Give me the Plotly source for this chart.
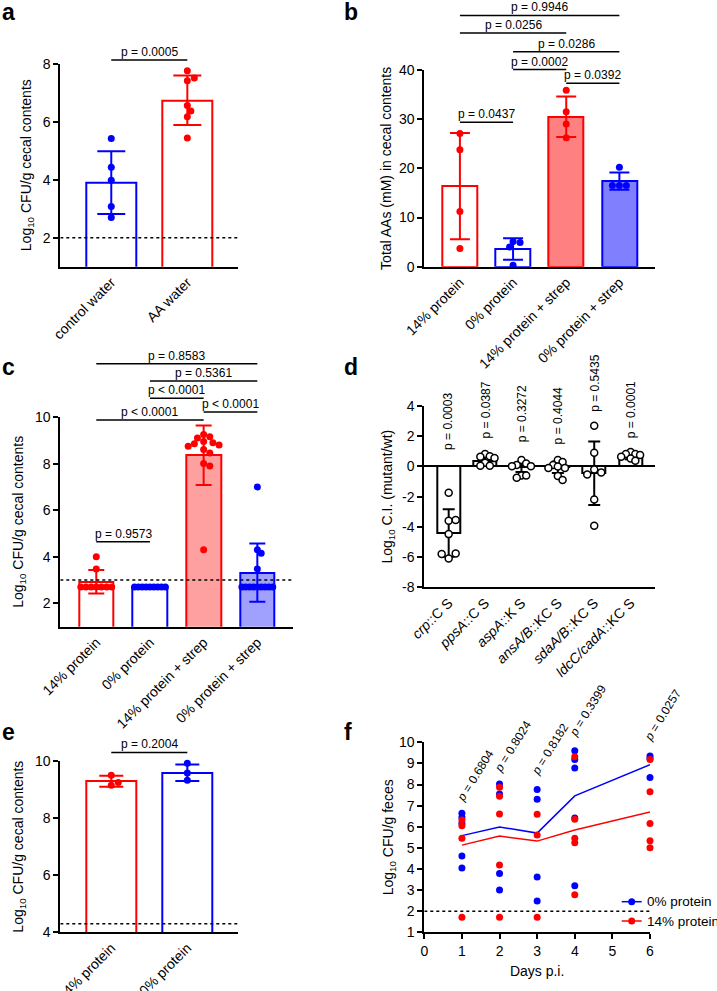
import plotly.graph_objects as go

W, H = 717, 991
FONT = "Arial, 'Liberation Sans', sans-serif"
INK = "#000000"
RED = "#ff0000"
BLUE = "#0000ff"

# ---------------------------------------------------------------- data
# a: CFU in cecal contents, control vs AA water
A_CATS = ["control water", "AA water"]
A_MEAN = [3.90, 6.74]
A_SD = [1.08, 0.85]
A_PTS = [
    [5.42, 4.43, 3.98, 3.08, 2.70],
    [7.76, 7.41, 7.51, 6.56, 6.37, 6.17, 5.44],
]
A_LOD = 2.0
A_PAIRS = [(0, 1)]
A_PVALS = ["p = 0.0005"]

# b: total amino acids
B_CATS = ["14% protein", "0% protein", "14% protein + strep", "0% protein + strep"]
B_MEAN = [16.4, 3.6, 30.5, 17.4]
B_SD = [10.8, 2.2, 4.1, 1.75]
B_PTS = [
    [27.1, 23.8, 11.2, 3.7],
    [5.1, 4.9, 4.0, 0.3],
    [35.9, 31.5, 29.0, 26.2],
    [20.2, 16.5, 16.5, 16.5],
]
B_PAIRS = [(0, 3), (0, 2), (1, 3), (1, 2), (2, 3), (0, 1)]
B_PVALS = ["p = 0.9946", "p = 0.0256", "p = 0.0286", "p = 0.0002", "p = 0.0392", "p = 0.0437"]

# c: CFU with / without strep
C_CATS = ["14% protein", "0% protein", "14% protein + strep", "0% protein + strep"]
C_MEAN = [2.93, 2.70, 8.36, 3.32]
C_SD = [0.50, 0.0, 1.28, 1.25]
C_PTS = [
    [4.0, 3.48, 2.7, 2.7, 2.7, 2.7, 2.7, 2.7, 2.7],
    [2.7, 2.7, 2.7, 2.7, 2.7, 2.7, 2.7, 2.7, 2.7],
    [9.25, 9.15, 9.1, 8.95, 8.9, 8.85, 8.8, 8.75, 8.6, 8.45, 8.0, 7.9, 4.3],
    [7.0, 4.3, 4.15, 3.48, 2.7, 2.7, 2.7, 2.7, 2.7, 2.7, 2.7, 2.7, 2.7],
]
C_LOD = 3.0
C_PAIRS = [(0, 3), (1, 3), (1, 2), (2, 3), (0, 2), (0, 1)]
C_PVALS = ["p = 0.8583", "p = 0.5361", "p &lt; 0.0001", "p &lt; 0.0001", "p &lt; 0.0001", "p = 0.9573"]

# d: competitive index
D_CATS = ["<i>crp</i>::C S", "<i>ppsA</i>::C S", "<i>aspA</i>::K S",
          "<i>ansA/B</i>::KC S", "<i>sdaA/B</i>::KC S", "<i>ldcC/cadA</i>::KC S"]
D_MEAN = [-4.40, 0.35, -0.05, -0.05, -0.45, 0.68]
D_SD = [1.57, 0.30, 0.32, 0.38, 2.10, 0.20]
D_PTS = [
    [-1.74, -3.6, -3.55, -4.48, -6.09, -5.76, -5.8],
    [0.82, 0.68, 0.64, 0.55, 0.25, 0.04, 0.04],
    [0.42, 0.2, 0.1, 0.02, 0.02, -0.6, -0.6, -0.75],
    [0.42, 0.29, 0.1, 0.0, -0.1, -0.1, -0.64, -0.9],
    [2.7, 0.9, -0.2, -0.4, -0.53, -2.19, -3.93],
    [0.95, 0.82, 0.82, 0.75, 0.64, 0.53, 0.38],
]
D_PVALS = ["p = 0.0003", "p = 0.0387", "p = 0.3272", "p = 0.4044", "p = 0.5435", "p = 0.0001"]

# e: CFU, 14% vs 0% protein
E_CATS = ["14% protein", "0% protein"]
E_MEAN = [9.29, 9.59]
E_SD = [0.19, 0.29]
E_PTS = [[9.50, 9.15, 9.25], [9.92, 9.58, 9.33]]
E_LOD = 4.3
E_PAIRS = [(0, 1)]
E_PVALS = ["p = 0.2004"]

# f: fecal shedding over time
F_DAYS = [1, 2, 3, 4, 6]
F_ZERO_PTS = [
    [6.64, 6.45, 6.16, 4.61, 4.04],
    [8.03, 7.55, 3.79, 3.00],
    [7.77, 7.30, 3.62, 2.48],
    [9.60, 9.19, 8.78, 6.41, 3.21],
    [9.35, 9.23, 8.33],
]
F_ZERO_MEAN = [5.58, 5.99, 5.70, 7.46, 8.94]
F_FOURTEEN_PTS = [
    [6.32, 6.05, 5.45, 1.71],
    [7.87, 7.44, 6.60, 4.19, 1.71],
    [6.59, 5.61, 1.71],
    [9.32, 6.35, 5.45, 5.24, 2.78],
    [9.19, 7.66, 6.15, 5.34, 5.01],
]
F_FOURTEEN_MEAN = [5.13, 5.56, 5.32, 5.85, 6.70]
F_LOD = 2.0
F_PVALS = ["0.6804", "0.8024", "0.8182", "0.3399", "0.0257"]
F_NAMES = ["0% protein", "14% protein"]

# ---------------------------------------------------------------- layout
# panel geometry in pixels (left, right), (top, bottom) plus axis ranges
PAD = 0.67
GEOM = {
    "a": dict(n=1, x=(60.3, 238.3), y=(63.7, 266.7), xr=(-PAD, 1 + PAD), yr=(1, 8)),
    "b": dict(n=2, x=(424.3, 655.0), y=(70.0, 266.7), xr=(-PAD, 3 + PAD), yr=(0, 40)),
    "c": dict(n=3, x=(60.3, 293.3), y=(417.0, 626.7), xr=(-PAD, 3 + PAD), yr=(1, 10)),
    "d": dict(n=4, x=(424.3, 655.0), y=(406.0, 587.3), xr=(-PAD, 5 + PAD), yr=(-8, 4)),
    "e": dict(n=5, x=(60.3, 238.3), y=(761.0, 932.3), xr=(-PAD, 1 + PAD), yr=(4, 10)),
    "f": dict(n=6, x=(424.3, 650.0), y=(742.3, 932.3), xr=(0, 6), yr=(1, 10)),
}
LETTER_POS = {"a": (0, 11.7), "b": (342, 11.7), "c": (0, 366.7), "d": (342, 366.7),
              "e": (0, 731.7), "f": (342, 731.7)}
LEGEND_ROWS = [901.7, 921.0]      # pixel y of legend entries in f
LEGEND_X = (621.7, 641.7, 645.0)  # line start, line end, text start

# bracket heights (data units) and label anchors
A_BRACKET_Y = [8.13]
B_BRACKET_Y = [51.1, 47.5, 43.7, 40.1, 37.3, 29.4]
C_BRACKET_Y = [12.29, 11.54, 10.80, 10.21, 9.87, 4.65]
E_BRACKET_Y = [10.3]
D_LABEL_Y = [0.97, 1.68, 1.46, 1.35, 3.47, 1.74]
F_LABEL_Y = [6.95, 8.3, 8.2, 10.0, 9.8]

DOT = 7


def ax_id(p):
    n = GEOM[p]["n"]
    return ("x", "y") if n == 1 else (f"x{n}", f"y{n}")


def px_per_x(p):
    g = GEOM[p]
    return (g["x"][1] - g["x"][0]) / (g["xr"][1] - g["xr"][0])


def px_per_y(p):
    g = GEOM[p]
    return (g["y"][1] - g["y"][0]) / (g["yr"][1] - g["yr"][0])


def fx(p, v):
    g = GEOM[p]
    return (v - g["xr"][0]) / (g["xr"][1] - g["xr"][0])


def fy(p, v):
    g = GEOM[p]
    return (v - g["yr"][0]) / (g["yr"][1] - g["yr"][0])


def swarm(vals, p, maxhalf):
    """Simple beeswarm offsets (in x data units) for one column of dots."""
    sy = px_per_y(p)
    placed, offs = [], []
    for v in vals:
        yp = v * sy
        k = 0
        while True:
            cand = 0.0 if k == 0 else ((k + 1) // 2) * 0.5 * DOT * (1 if k % 2 else -1)
            if all((cand - a) ** 2 + (yp - b) ** 2 >= (0.9 * DOT) ** 2 for a, b in placed):
                break
            k += 1
        placed.append((cand, yp))
        offs.append(cand)
    m = max(abs(o) for o in offs)
    s = maxhalf / m if m > maxhalf else 1.0
    return [o * s / px_per_x(p) for o in offs]


fig = go.Figure()
shapes, annotations = [], []


def bar_panel(p, means, sds, pts, edge, fills, width, cap, dot_fill=None, dot_line=None):
    xa, ya = ax_id(p)
    for i, (m, sd) in enumerate(zip(means, sds)):
        fig.add_trace(go.Bar(
            x=[i], y=[m], width=width, xaxis=xa, yaxis=ya, showlegend=False,
            marker=dict(color=fills[i], line=dict(color=edge[i], width=2)),
            error_y=dict(type="data", array=[sd], visible=sd > 0, color=edge[i],
                         thickness=2, width=cap),
        ))
    maxhalf = width * px_per_x(p) / 2 - 2
    for i, vals in enumerate(pts):
        offs = swarm(vals, p, maxhalf)
        fig.add_trace(go.Scatter(
            x=[i + o for o in offs], y=vals, mode="markers", xaxis=xa, yaxis=ya,
            showlegend=False, cliponaxis=False,
            marker=dict(size=DOT, color=dot_fill or edge[i],
                        line=dict(color=dot_line or edge[i], width=1.5 if dot_line else 0)),
        ))


def lod_line(p, v):
    xa, ya = ax_id(p)
    g = GEOM[p]
    shapes.append(dict(type="line", xref=xa, yref=ya, x0=g["xr"][0], x1=g["xr"][1],
                       y0=v, y1=v, line=dict(color=INK, width=1.5, dash="dot")))


def brackets(p, pairs, pvals, levels):
    xa, ya = ax_id(p)
    for (i, j), txt, lv in zip(pairs, pvals, levels):
        shapes.append(dict(type="line", xref=f"{xa} domain", yref=f"{ya} domain",
                           x0=fx(p, i), x1=fx(p, j), y0=fy(p, lv), y1=fy(p, lv),
                           line=dict(color=INK, width=1.5)))
        annotations.append(dict(text=txt, xref=f"{xa} domain", yref=f"{ya} domain",
                                x=fx(p, (i + j) / 2), y=fy(p, lv), xanchor="center",
                                yanchor="bottom", showarrow=False, yshift=-1,
                                font=dict(size=12, color=INK)))


# a
bar_panel("a", A_MEAN, A_SD, A_PTS, [BLUE, RED], ["white", "white"], 0.66, 14)
lod_line("a", A_LOD)
brackets("a", A_PAIRS, A_PVALS, A_BRACKET_Y)

# b
bar_panel("b", B_MEAN, B_SD, B_PTS, [RED, BLUE, RED, BLUE],
          ["white", "white", "#ff8080", "#8080ff"], 0.66, 10)
brackets("b", B_PAIRS, B_PVALS, B_BRACKET_Y)

# c
bar_panel("c", C_MEAN, C_SD, C_PTS, [RED, BLUE, RED, BLUE],
          ["white", "white", "#ffa0a0", "#a0a0ff"], 0.65, 8)
lod_line("c", C_LOD)
brackets("c", C_PAIRS, C_PVALS, C_BRACKET_Y)

# d
bar_panel("d", D_MEAN, D_SD, D_PTS, [INK] * 6, ["white"] * 6, 0.63, 6,
          dot_fill="white", dot_line=INK)
xa, ya = ax_id("d")
for i, (txt, lv) in enumerate(zip(D_PVALS, D_LABEL_Y)):
    annotations.append(dict(text=txt, xref=xa, yref=f"{ya} domain", x=i, y=fy("d", lv),
                            textangle=-90, xanchor="center", yanchor="bottom",
                            showarrow=False, font=dict(size=12, color=INK)))

# e
bar_panel("e", E_MEAN, E_SD, E_PTS, [RED, BLUE], ["white", "white"], 0.66, 12)
lod_line("e", E_LOD)
brackets("e", E_PAIRS, E_PVALS, E_BRACKET_Y)

# f
xa, ya = ax_id("f")
for pts, mean, col in [(F_ZERO_PTS, F_ZERO_MEAN, BLUE), (F_FOURTEEN_PTS, F_FOURTEEN_MEAN, RED)]:
    xs = [d for d, vals in zip(F_DAYS, pts) for _ in vals]
    ys = [v for vals in pts for v in vals]
    fig.add_trace(go.Scatter(x=F_DAYS, y=mean, mode="lines", xaxis=xa, yaxis=ya,
                             line=dict(color=col, width=1.5), showlegend=False))
    fig.add_trace(go.Scatter(x=xs, y=ys, mode="markers", xaxis=xa, yaxis=ya, cliponaxis=False,
                             marker=dict(size=DOT, color=col), showlegend=False))
lod_line("f", F_LOD)
for d, txt, lv in zip(F_DAYS, F_PVALS, F_LABEL_Y):
    annotations.append(dict(text=f"<i>p</i> = {txt}", xref=xa, yref=f"{ya} domain", x=d,
                            y=fy("f", lv), textangle=-58, xanchor="left", yanchor="bottom",
                            xshift=-11, showarrow=False, font=dict(size=12, color=INK)))

# legend for f drawn by hand so it can sit right against the page edge
for name, col, row in zip(F_NAMES, [BLUE, RED], LEGEND_ROWS):
    yy = 1 - row / H
    x0, x1, xt = LEGEND_X
    mid = (x0 + x1) / 2
    r = DOT / 2
    shapes.append(dict(type="line", xref="paper", yref="paper", x0=x0 / W, x1=x1 / W,
                       y0=yy, y1=yy, line=dict(color=col, width=1.5)))
    shapes.append(dict(type="circle", xref="paper", yref="paper",
                       x0=(mid - r) / W, x1=(mid + r) / W, y0=yy - r / H, y1=yy + r / H,
                       fillcolor=col, line=dict(width=0)))
    annotations.append(dict(text=name, xref="paper", yref="paper", x=xt / W, y=yy,
                            xanchor="left", yanchor="middle", showarrow=False,
                            font=dict(size=13.5, color=INK)))

# panel letters
for k, (lx, ly) in LETTER_POS.items():
    annotations.append(dict(text=f"<b>{k}</b>", xref="paper", yref="paper", x=lx / W,
                            y=1 - ly / H, xanchor="left", yanchor="middle", showarrow=False,
                            font=dict(size=23, color=INK)))

# ---------------------------------------------------------------- axes
base = dict(showline=True, linecolor=INK, linewidth=2, showgrid=False, zeroline=False,
            tickfont=dict(size=14, color=INK), ticks="outside", ticklen=5, tickwidth=2,
            tickcolor=INK, fixedrange=True, automargin=False)
YTITLES = {
    "a": ("Log<sub>10</sub> CFU/g cecal contents", 8),
    "b": ("Total AAs (mM) in cecal contents", 4),
    "c": ("Log<sub>10</sub> CFU/g cecal contents", 8),
    "d": ("Log<sub>10</sub> C.I. (mutant/wt)", 6),
    "e": ("Log<sub>10</sub> CFU/g cecal contents", 8),
    "f": ("Log<sub>10</sub> CFU/g feces", 2),
}
YTICKS = {"a": 2, "b": 10, "c": 2, "d": 2, "e": 2, "f": 1}
CATS = {"a": A_CATS, "b": B_CATS, "c": C_CATS, "d": D_CATS, "e": E_CATS}

axes = {}
for p, g in GEOM.items():
    n = g["n"]
    xk = "xaxis" if n == 1 else f"xaxis{n}"
    yk = "yaxis" if n == 1 else f"yaxis{n}"
    xa, ya = ax_id(p)
    xdom = [g["x"][0] / W, g["x"][1] / W]
    ydom = [1 - g["y"][1] / H, 1 - g["y"][0] / H]
    xd = dict(base, domain=xdom, range=list(g["xr"]), anchor=ya)
    if p in CATS:
        xd.update(tickmode="array", tickvals=list(range(len(CATS[p]))), ticktext=CATS[p],
                  ticks="", tickangle=-45)
    else:
        xd.update(dtick=1, tick0=0, title=dict(text="Days p.i.", standoff=8,
                                             font=dict(size=14, color=INK)))
    yd = dict(base, domain=ydom, range=list(g["yr"]), anchor=xa, dtick=YTICKS[p], tick0=0,
              title=dict(text=YTITLES[p][0], standoff=YTITLES[p][1],
                         font=dict(size=14, color=INK)))
    if p == "d":
        tv = list(range(-8, 5, 2))
        yd.update(tickmode="array", tickvals=tv, ticktext=[str(t) for t in tv],
                  zeroline=True, zerolinecolor=INK, zerolinewidth=2)
    axes[xk] = xd
    axes[yk] = yd

fig.update_layout(
    width=W, height=H, margin=dict(l=0, r=0, t=0, b=0, autoexpand=False),
    paper_bgcolor="white", plot_bgcolor="white",
    font=dict(family=FONT, color=INK, size=14),
    barmode="overlay", bargap=0, showlegend=False,
    shapes=shapes, annotations=annotations,
    **axes,
)

# the page's default 8px body margin would shift the whole figure
fig.write_html("out.html", config={"displayModeBar": False},
               post_script="document.body.style.margin = '0';")
